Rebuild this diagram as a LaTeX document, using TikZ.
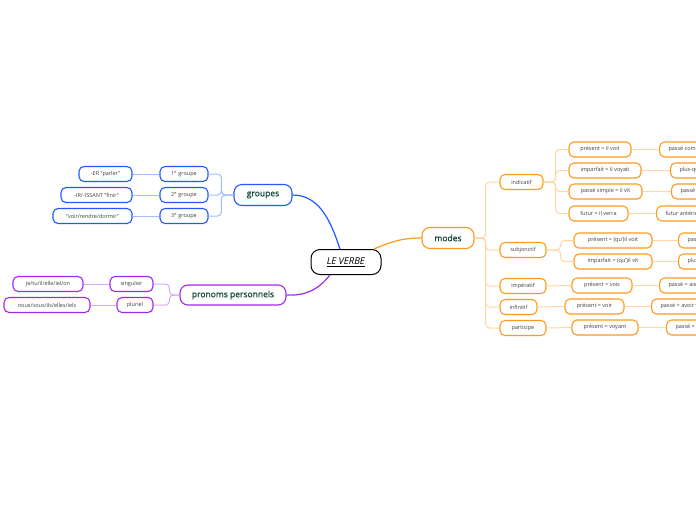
\documentclass[tikz,border=0pt]{standalone}
\usepackage{fontspec}
\setmainfont{Open Sans}
\newfontface\topicface[FakeBold=1.2]{Open Sans}
\usepackage{tikz}
\usetikzlibrary{positioning, calc}
\definecolor{grpblue}{RGB}{30,90,255}
\definecolor{pronpurple}{RGB}{160,40,235}
\definecolor{modeorange}{RGB}{255,154,30}
\definecolor{topicgreen}{RGB}{25,75,65}
\tikzset{
    root/.style={rectangle, rounded corners=9pt, draw=black, fill=white, line width=1pt,
                 minimum width=70pt, minimum height=25pt, font=\fontsize{9.5}{11}\selectfont},
    topic/.style={rectangle, rounded corners=8pt, fill=white, line width=1.1pt,
                  minimum height=21pt, text=topicgreen, font=\topicface\fontsize{8.5}{10}\selectfont},
    leaf/.style={rectangle, rounded corners=5pt, fill=white, line width=1.1pt,
                 minimum height=15pt, inner xsep=6pt, text=black!75, font=\fontsize{5.5}{6}\selectfont},
    gleaf/.style={leaf, draw=grpblue},
    pleaf/.style={leaf, draw=pronpurple},
    mleaf/.style={leaf, draw=modeorange},
    edgeleaf/.style={mleaf, anchor=west, inner xsep=9pt},
    gconn/.style={grpblue!40, line width=1pt, rounded corners=4pt},
    pconn/.style={pronpurple!40, line width=1pt, rounded corners=4pt},
    mconn/.style={modeorange!40, line width=1pt, rounded corners=4pt}
}
\begin{document}
\begin{tikzpicture}[x=1pt, y=-1pt]
    \useasboundingbox (0,0) rectangle (696,520);
    \clip (0,0) rectangle (696,520);

    % Centre
    \node[root] (verbe) at (346,262) {\underline{\textit{LE VERBE}}};

    % Groupes
    \node[topic, draw=grpblue, minimum width=58pt] (groupes) at (263,195) {groupes};
    \node[gleaf, minimum width=48pt] (g1) at (184,174) {1\textsuperscript{e} groupe};
    \node[gleaf, minimum width=48pt] (g2) at (184,195) {2\textsuperscript{e} groupe};
    \node[gleaf, minimum width=48pt] (g3) at (184,216) {3\textsuperscript{e} groupe};
    \node[gleaf, minimum width=53pt] (er) at (105.5,174) {-ER "parler"};
    \node[gleaf, minimum width=71pt] (ir) at (96.5,195) {-IR/-ISSANT "finir"};
    \node[gleaf, minimum width=79pt] (oir) at (92.5,216) {"voir/rendre/dormir"};

    \foreach \g in {g1,g2,g3}
        \draw[gconn] (groupes.west) -- ++(-12,0) |- (\g.east);
    \draw[gconn] (g1.west) -- (er.east);
    \draw[gconn] (g2.west) -- (ir.east);
    \draw[gconn] (g3.west) -- (oir.east);

    % Pronoms personnels
    \node[topic, draw=pronpurple, minimum width=106pt, minimum height=20pt] (pronoms) at (233,295) {pronoms personnels};
    \node[pleaf, minimum width=43pt] (sing) at (131.5,284) {singulier};
    \node[pleaf, minimum width=36pt] (plur) at (135,305) {pluriel};
    \node[pleaf, minimum width=70pt] (jetu) at (48,284) {je/tu/il/elle/iel/on};
    \node[pleaf, minimum width=86pt] (nous) at (47,305) {nous/vous/ils/elles/iels};

    \foreach \p in {sing,plur}
        \draw[pconn] (pronoms.west) -- ++(-10,0) |- (\p.east);
    \draw[pconn] (sing.west) -- (jetu.east);
    \draw[pconn] (plur.west) -- (nous.east);

    % Modes
    \node[topic, draw=modeorange, minimum width=52pt] (modes) at (448,238) {modes};
    \node[mleaf, minimum width=43pt] (indic) at (521.5,182) {indicatif};
    \node[mleaf, minimum width=46pt] (subj) at (523,250) {subjonctif};
    \node[mleaf, minimum width=46pt] (imper) at (523,286) {impératif};
    \node[mleaf, minimum width=37pt] (infin) at (518.5,307) {infinitif};
    \node[mleaf, minimum width=46pt] (partic) at (523,328) {participe};

    \foreach \m in {indic,subj,imper,infin,partic}
        \draw[mconn] (modes.east) -- ++(11,0) |- (\m.west);

    % Indicatif
    \node[mleaf, minimum width=62pt] (ipres) at (600,149.5) {présent = il voit};
    \node[mleaf, minimum width=72pt] (iimpa) at (605,170.5) {imparfait = il voyait};
    \node[mleaf, minimum width=73pt] (ipass) at (605.5,191.5) {passé simple = il vit};
    \node[mleaf, minimum width=59pt] (ifutu) at (598.5,213.5) {futur = il verra};
    \node[edgeleaf] (icomp) at (659,149.5) {passé composé = il a vu};
    \node[edgeleaf] (ipqp) at (670,170.5) {plus-que-parfait = il avait vu};
    \node[edgeleaf] (iante) at (671,191.5) {passé antérieur = il eut vu};
    \node[edgeleaf] (ifant) at (656,213.5) {futur antérieur = il aura vu};

    \foreach \i in {ipres,iimpa,ipass,ifutu}
        \draw[mconn] (indic.east) -- ++(12,0) |- (\i.west);
    \draw[mconn] (ipres.east) -- (icomp.west);
    \draw[mconn] (iimpa.east) -- (ipqp.west);
    \draw[mconn] (ipass.east) -- (iante.west);
    \draw[mconn] (ifutu.east) -- (ifant.west);

    % Subjonctif
    \node[mleaf, minimum width=78pt] (spres) at (613,240.5) {présent = (qu')il voit};
    \node[mleaf, minimum width=78pt] (simpa) at (613,261.5) {imparfait = (qu')il vit};
    \node[edgeleaf] (spass) at (678,240.5) {passé = (qu')il ait vu};
    \node[edgeleaf] (spqp) at (678,261.5) {plus-que-parfait = (qu')il eût vu};

    \foreach \s in {spres,simpa}
        \draw[mconn] (subj.east) -- ++(14,0) |- (\s.west);
    \draw[mconn] (spres.east) -- (spass.west);
    \draw[mconn] (simpa.east) -- (spqp.west);

    % Impératif, infinitif, participe
    \node[mleaf, minimum width=60pt] (vois) at (602,285.5) {présent = vois};
    \node[mleaf, minimum width=59pt] (voir) at (594.5,306.5) {présent = voir};
    \node[mleaf, minimum width=66pt] (voyant) at (605,327.5) {présent = voyant};
    \node[edgeleaf] (aie) at (659,285.5) {passé = aie vu};
    \node[edgeleaf] (avoir) at (651,306.5) {passé = avoir vu};
    \node[edgeleaf] (ayant) at (666,327.5) {passé = ayant vu};

    \draw[mconn] (imper.east) -- (vois.west);
    \draw[mconn] (infin.east) -- (voir.west);
    \draw[mconn] (partic.east) -- (voyant.west);
    \draw[mconn] (vois.east) -- (aie.west);
    \draw[mconn] (voir.east) -- (avoir.west);
    \draw[mconn] (voyant.east) -- (ayant.west);

    % Main branches
    \draw[grpblue, line width=1.2pt] (groupes.east) .. controls (318,195) and (330,218) .. (verbe.115);
    \draw[pronpurple, line width=1.2pt] (verbe.219) .. controls (318,290) and (305,296) .. (pronoms.east);
    \draw[modeorange, line width=1.2pt] (verbe.25) .. controls (395,240) and (405,238) .. (modes.west);
\end{tikzpicture}
\end{document}
